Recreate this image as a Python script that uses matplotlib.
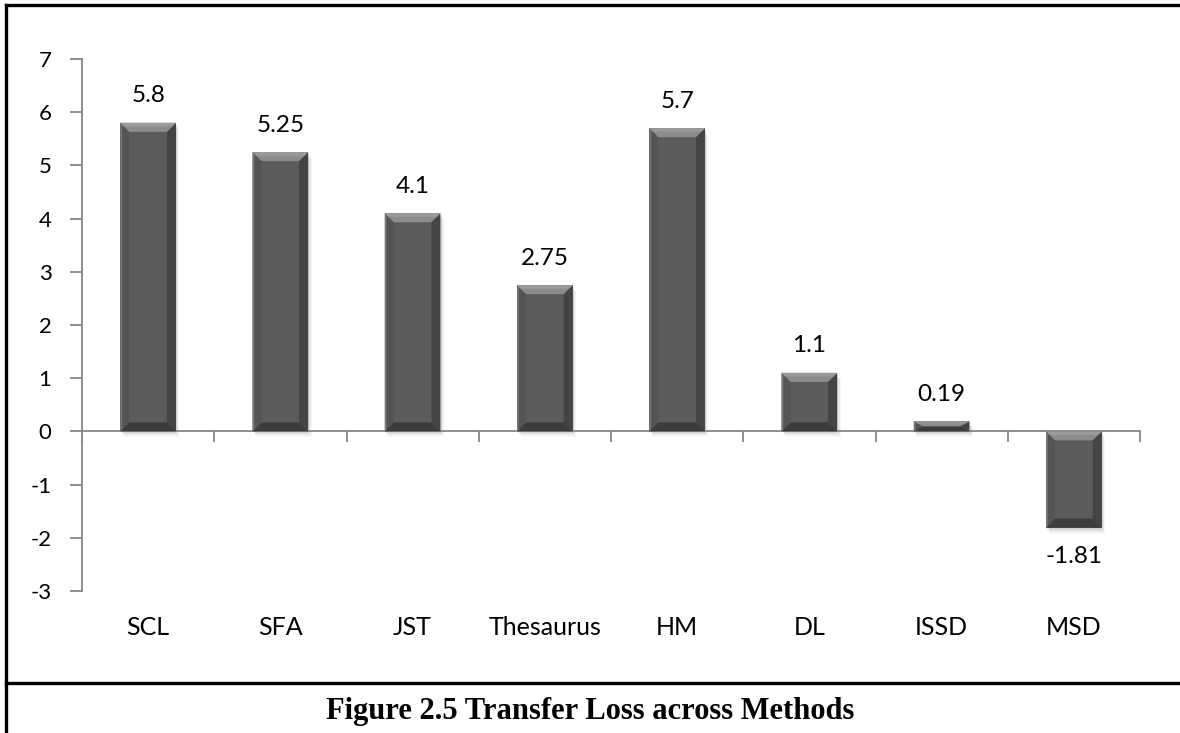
import matplotlib
matplotlib.use("Agg")
import matplotlib.pyplot as plt
from matplotlib.patches import Polygon, Rectangle
from matplotlib.lines import Line2D
import numpy as np

methods = ["SCL", "SFA", "JST", "Thesaurus", "HM", "DL", "ISSD", "MSD"]
transfer_loss = [5.8, 5.25, 4.1, 2.75, 5.7, 1.1, 0.19, -1.81]
value_labels = ["5.8", "5.25", "4.1", "2.75", "5.7", "1.1", "0.19", "-1.81"]
y_ticks = [-3, -2, -1, 0, 1, 2, 3, 4, 5, 6, 7]
caption = "Figure 2.5 Transfer Loss across Methods"

W, H, DPI = 1180, 733, 100
fig = plt.figure(figsize=(W / DPI, H / DPI), dpi=DPI)
fig.patch.set_facecolor("white")

label_font = "Lato"
axis_grey = "#868686"

ax = fig.add_axes([82 / W, 1 - 591 / H, 1058 / W, 532 / H])
ax.set_xlim(-0.5, len(methods) - 0.5)
ax.set_ylim(-3, 7)
ax.patch.set_alpha(0)

for side in ("top", "right"):
    ax.spines[side].set_visible(False)
ax.spines["left"].set_color(axis_grey)
ax.spines["left"].set_linewidth(1.3)
ax.spines["bottom"].set_position(("data", 0))
ax.spines["bottom"].set_color(axis_grey)
ax.spines["bottom"].set_linewidth(1.3)

ax.set_yticks(y_ticks)
ax.set_yticklabels([str(v) for v in y_ticks], fontfamily=label_font, fontsize=16)
ax.tick_params(axis="y", direction="out", length=9, width=1.3, color=axis_grey, pad=13)

# tick marks between categories along the zero line
ax.set_xticks(np.arange(len(methods) + 1) - 0.5)
ax.set_xticklabels([])
ax.tick_params(axis="x", direction="out", length=8, width=1.3, color=axis_grey)

bar_width = 0.42
bars = ax.bar(range(len(methods)), transfer_loss, width=bar_width,
              color="#5c5c5c", edgecolor="none", zorder=3)

fig.canvas.draw()
inv = ax.transData.inverted()
p0 = inv.transform((0, 0))
p1 = inv.transform((9, 9))
dx_full, dy_full = p1[0] - p0[0], p1[1] - p0[1]
sx = (inv.transform((4, 0))[0] - p0[0])
sy = (inv.transform((0, 4))[1] - p0[1])

for bar in bars:
    xl = bar.get_x()
    xr = xl + bar.get_width()
    yb = min(bar.get_y(), bar.get_y() + bar.get_height())
    yt = max(bar.get_y(), bar.get_y() + bar.get_height())
    dx = dx_full
    dy = min(dy_full, (yt - yb) / 2)

    # soft drop shadow
    for k, a in enumerate([0.09, 0.06, 0.035]):
        off = (k + 1)
        ax.add_patch(Rectangle((xl + sx * 0.3 * off, yb - sy * 0.5 * off),
                               (xr - xl), (yt - yb),
                               facecolor="black", alpha=a, edgecolor="none", zorder=2))

    # bevelled faces
    top = [(xl, yt), (xr, yt), (xr - dx, yt - dy), (xl + dx, yt - dy)]
    bottom = [(xl, yb), (xr, yb), (xr - dx, yb + dy), (xl + dx, yb + dy)]
    left = [(xl, yb), (xl, yt), (xl + dx, yt - dy), (xl + dx, yb + dy)]
    right = [(xr, yb), (xr, yt), (xr - dx, yt - dy), (xr - dx, yb + dy)]
    ax.add_patch(Polygon(left, closed=True, facecolor="#545454", edgecolor="none", zorder=4))
    ax.add_patch(Polygon(right, closed=True, facecolor="#444444", edgecolor="none", zorder=4))
    ax.add_patch(Polygon(bottom, closed=True, facecolor="#3c3c3c", edgecolor="none", zorder=4))
    ax.add_patch(Polygon(top, closed=True, facecolor="#8c8c8c", edgecolor="none", zorder=5))
    # lighter band at the outer rim of the top bevel
    ax.add_patch(Polygon([(xl, yt), (xr, yt), (xr - dx * 0.4, yt - dy * 0.4),
                          (xl + dx * 0.4, yt - dy * 0.4)], closed=True,
                         facecolor="#9a9a9a", edgecolor="none", zorder=5))
    # thin highlight along the left edge
    ax.add_patch(Polygon([(xl, yb), (xl, yt), (xl + dx * 0.2, yt - dy * 0.2),
                          (xl + dx * 0.2, yb + dy * 0.2)], closed=True,
                         facecolor="#767676", edgecolor="none", zorder=5))

for i, (v, txt) in enumerate(zip(transfer_loss, value_labels)):
    off = 19.5 if v >= 0 else -21
    ax.annotate(txt, (i, v), xytext=(0, off), textcoords="offset points",
                ha="center", va="center", fontfamily=label_font, fontsize=17.5)

# category names along the bottom of the plot area
for i, name in enumerate(methods):
    ax.annotate(name, (i, -3), xytext=(0, -26), textcoords="offset points",
                ha="center", va="center", fontfamily=label_font, fontsize=18,
                annotation_clip=False)

# frame and caption rule
lw = 2.4
fig.add_artist(Line2D([6 / W, 1.0], [1 - 5 / H, 1 - 5 / H], color="black", lw=lw))
fig.add_artist(Line2D([6 / W, 6 / W], [0.0, 1 - 5 / H], color="black", lw=lw))
fig.add_artist(Line2D([6 / W, 1.0], [1 - 683 / H, 1 - 683 / H], color="black", lw=lw))

fig.text(590 / W, 1 - 711 / H, caption, ha="center", va="center",
         fontfamily="Liberation Serif", fontweight="bold", fontsize=22)

fig.savefig("out.png", dpi=DPI, facecolor="white")
